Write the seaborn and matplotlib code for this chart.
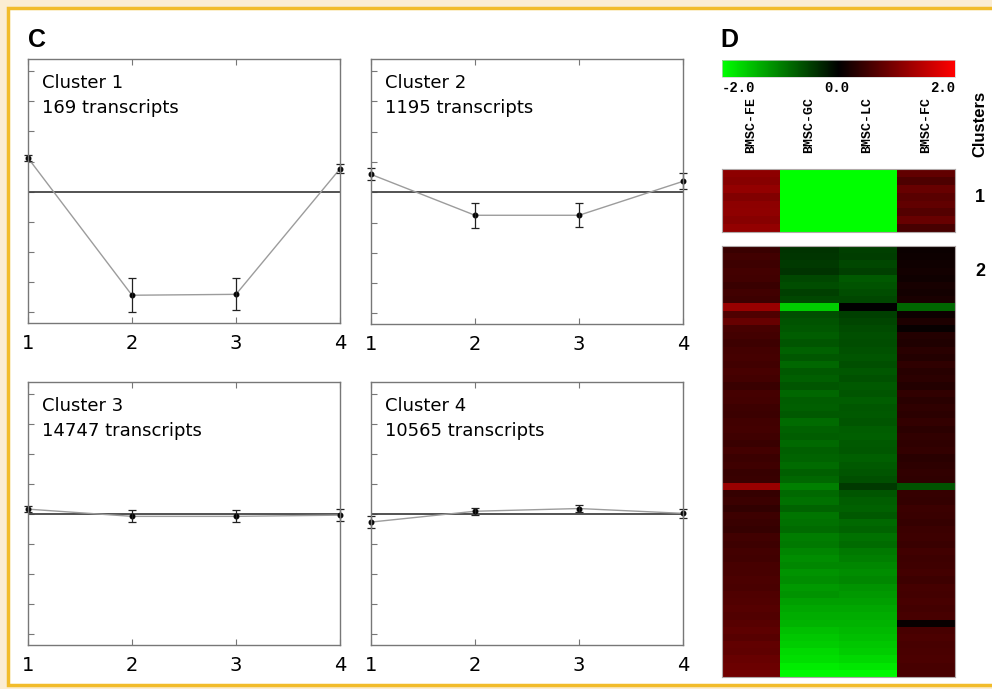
import numpy as np
import pandas as pd
import matplotlib
matplotlib.use("Agg")
import matplotlib.pyplot as plt
import seaborn as sns
from matplotlib.colors import LinearSegmentedColormap
from matplotlib.patches import Rectangle

# panel C: cluster profiles (mean log ratio per condition, with error bars)
conditions = [1, 2, 3, 4]
cluster_names = ["Cluster 1", "Cluster 2", "Cluster 3", "Cluster 4"]
cluster_sizes = ["169", "1195", "14747", "10565"]
c1_mean = [1.12, -3.43, -3.40, 0.76]
c1_err = [0.10, 0.56, 0.53, 0.15]
c2_mean = [0.59, -0.76, -0.76, 0.36]
c2_err = [0.20, 0.41, 0.40, 0.26]
c3_mean = [0.17, -0.07, -0.07, -0.03]
c3_err = [0.10, 0.20, 0.20, 0.20]
c4_mean = [-0.26, 0.10, 0.19, 0.03]
c4_err = [0.20, 0.12, 0.12, 0.15]

# panel D: heatmap rows
samples = ["BMSC-FE", "BMSC-GC", "BMSC-LC", "BMSC-FC"]
hm1_fe = [1.10, 1.05, 1.15, 1.00, 1.10, 1.12, 1.05, 1.15]
hm1_gc = [-2.5, -2.5, -2.5, -2.5, -2.5, -2.5, -2.5, -2.5]
hm1_lc = [-2.5, -2.5, -2.5, -2.5, -2.5, -2.5, -2.5, -2.5]
hm1_fc = [0.75, 0.60, 0.80, 0.70, 0.75, 0.65, 0.80, 0.55]

hm2_fe = [0.45, 0.50, 0.48, 0.52, 0.50, 0.45, 0.50, 0.48,
          1.20,
          0.62, 0.80, 0.55, 0.52, 0.48, 0.52, 0.54, 0.50, 0.56, 0.52, 0.45, 0.54,
          0.52, 0.48, 0.46, 0.50, 0.52, 0.49, 0.45, 0.52, 0.46, 0.49, 0.43, 0.45,
          1.20,
          0.42, 0.46, 0.38, 0.48, 0.45, 0.42, 0.50, 0.47, 0.52, 0.50, 0.56, 0.55, 0.58,
          0.57, 0.62, 0.64, 0.66, 0.63, 0.68, 0.72, 0.68, 0.75, 0.74, 0.80, 0.84, 0.88]
hm2_gc = [-0.40, -0.42, -0.45, -0.40, -0.55, -0.60, -0.50, -0.55,
          -1.60,
          -0.60, -0.65, -0.68, -0.72, -0.66, -0.76, -0.68, -0.80, -0.70, -0.75, -0.66, -0.80,
          -0.72, -0.75, -0.70, -0.84, -0.76, -0.72, -0.82, -0.74, -0.78, -0.84, -0.74, -0.80,
          -1.00,
          -0.82, -0.88, -0.78, -0.92, -0.88, -0.84, -0.98, -0.94, -1.04, -1.10, -1.05, -1.15, -1.10,
          -1.20, -1.15, -1.25, -1.30, -1.35, -1.40, -1.50, -1.55, -1.60, -1.70, -1.75, -1.85, -1.95]
hm2_lc = [-0.50, -0.48, -0.55, -0.50, -0.70, -0.65, -0.60, -0.55,
          0.00,
          -0.50, -0.54, -0.58, -0.62, -0.60, -0.64, -0.66, -0.62, -0.68, -0.63, -0.70, -0.66,
          -0.72, -0.68, -0.70, -0.66, -0.72, -0.75, -0.70, -0.68, -0.75, -0.70, -0.66, -0.62,
          -0.45,
          -0.66, -0.72, -0.76, -0.70, -0.82, -0.78, -0.88, -0.84, -0.94, -1.00, -1.05, -1.10, -1.05,
          -1.15, -1.20, -1.25, -1.30, -1.35, -1.40, -1.45, -1.50, -1.55, -1.60, -1.70, -1.80, -1.95]
hm2_fc = [0.08, 0.10, 0.12, 0.15, 0.12, 0.18, 0.15, 0.20,
          -0.80,
          0.10, 0.22, 0.05, 0.28, 0.24, 0.32, 0.28, 0.36, 0.30, 0.34, 0.28, 0.38,
          0.32, 0.36, 0.34, 0.40, 0.33, 0.38, 0.36, 0.40, 0.32, 0.35, 0.38, 0.36,
          -0.65,
          0.42, 0.40, 0.46, 0.44, 0.42, 0.46, 0.48, 0.45, 0.50, 0.47, 0.49, 0.52, 0.48,
          0.54, 0.52, 0.56, 0.52, 0.55, 0.05, 0.56, 0.58, 0.55, 0.57, 0.58, 0.55, 0.57]

means = [c1_mean, c2_mean, c3_mean, c4_mean]
errs = [c1_err, c2_err, c3_err, c4_err]

sns.set_theme(style="white")
plt.rcParams["font.family"] = ["DejaVu Sans"]
plt.rcParams["text.color"] = "black"
plt.rcParams["xtick.color"] = "black"

W, H = 992, 689
fig = plt.figure(figsize=(W / 100, H / 100), dpi=100)
fig.patch.set_facecolor("#FBEDD2")
fig.patches.append(Rectangle((8 / W, 4 / H), 1.0, (H - 8 - 4) / H, transform=fig.transFigure,
                             facecolor="white", edgecolor="#F2BC2A", lw=2.5, zorder=-5))


def rect(l, t, r, b):
    return [l / W, 1 - b / H, (r - l) / W, (b - t) / H]


def fx(x):
    return x / W


def fy(y):
    return 1 - y / H


boxes = [(28, 59, 340, 323), (371, 59, 683, 324), (28, 382, 340, 645), (371, 382, 683, 645)]

for i, box in enumerate(boxes):
    ax = fig.add_axes(rect(*box))
    df = pd.DataFrame({"cond": conditions, "val": means[i]})
    sns.lineplot(data=df, x="cond", y="val", ax=ax, color="#9c9c9c", lw=1.0,
                 marker="o", markersize=3.5, markerfacecolor="black", markeredgecolor="black")
    for ln in ax.lines:
        ln.set_clip_on(False)
    eb = ax.errorbar(conditions, means[i], yerr=errs[i], fmt="none", ecolor="#222222",
                     elinewidth=0.9, capsize=3, capthick=0.9)
    for art in eb.lines[1] + eb.lines[2]:
        art.set_clip_on(False)
    ax.axhline(0, color="#444444", lw=1.3, zorder=1)
    ax.set_xlim(1, 4)
    ax.set_ylim(-4.35, 4.4)
    ax.set_xticks(conditions)
    ax.set_xticklabels([str(c) for c in conditions], fontsize=14, color="black")
    ax.set_yticks(np.arange(-4, 5))
    ax.set_yticklabels([])
    ax.set_xlabel("")
    ax.set_ylabel("")
    ax.tick_params(axis="both", direction="in", length=4, width=0.8, color="#777777",
                   top=True, bottom=True, left=True, right=False, pad=8)
    for sp in ax.spines.values():
        sp.set_color("#777777")
        sp.set_linewidth(1.0)
    ax.text(0.045, 0.909, cluster_names[i], transform=ax.transAxes, va="center", ha="left",
            fontsize=13, color="black")
    ax.text(0.045, 0.814, cluster_sizes[i] + " transcripts", transform=ax.transAxes,
            va="center", ha="left", fontsize=13, color="black")

fig.text(fx(28), fy(40), "C", fontsize=18, fontweight="bold", family="Liberation Sans",
         va="center", ha="left", color="black")
fig.text(fx(720), fy(40), "D", fontsize=18, fontweight="bold", family="Liberation Sans",
         va="center", ha="left", color="black")

# panel D heatmaps
cmap = LinearSegmentedColormap.from_list("gbr", [(0, 1, 0), (0, 0, 0), (1, 0, 0)])
hm1 = pd.DataFrame({samples[0]: hm1_fe, samples[1]: hm1_gc, samples[2]: hm1_lc, samples[3]: hm1_fc})
hm2 = pd.DataFrame({samples[0]: hm2_fe, samples[1]: hm2_gc, samples[2]: hm2_lc, samples[3]: hm2_fc})

ax1 = fig.add_axes(rect(722, 169, 955, 232))
sns.heatmap(hm1, ax=ax1, cmap=cmap, vmin=-2, vmax=2, cbar=False,
            xticklabels=False, yticklabels=False)
ax2 = fig.add_axes(rect(722, 246, 955, 677))
sns.heatmap(hm2, ax=ax2, cmap=cmap, vmin=-2, vmax=2, cbar=False,
            xticklabels=False, yticklabels=False)
for ax in (ax1, ax2):
    for sp in ax.spines.values():
        sp.set_visible(True)
        sp.set_color("#b0a8a8")
        sp.set_linewidth(0.8)

cax = fig.add_axes(rect(722, 60, 955, 77))
cb = fig.colorbar(ax2.collections[0], cax=cax, orientation="horizontal")
cb.set_ticks([])
cb.outline.set_edgecolor("#cccccc")
cb.outline.set_linewidth(0.5)

fig.text(fx(722), fy(88), "-2.0", family="Liberation Mono", fontweight="bold", fontsize=10,
         ha="left", va="center", color="black")
fig.text(fx(837), fy(88), "0.0", family="Liberation Mono", fontweight="bold", fontsize=10,
         ha="center", va="center", color="black")
fig.text(fx(955), fy(88), "2.0", family="Liberation Mono", fontweight="bold", fontsize=10,
         ha="right", va="center", color="black")

for xc, name in zip([751, 809, 867, 926], samples):
    fig.text(fx(xc), fy(97), name, family="Liberation Mono", fontweight="bold", fontsize=9.5,
             rotation=90, ha="center", va="top", color="black")

fig.text(fx(980), fy(124), "Clusters", family="Liberation Sans", fontweight="bold", fontsize=12,
         rotation=90, ha="center", va="center", color="black")
fig.text(fx(980), fy(197), "1", family="Liberation Sans", fontweight="bold", fontsize=13,
         ha="center", va="center", color="black")
fig.text(fx(980), fy(272), "2", family="Liberation Sans", fontweight="bold", fontsize=13,
         ha="center", va="center", color="black")

fig.savefig("out.png", dpi=100, facecolor=fig.get_facecolor())
